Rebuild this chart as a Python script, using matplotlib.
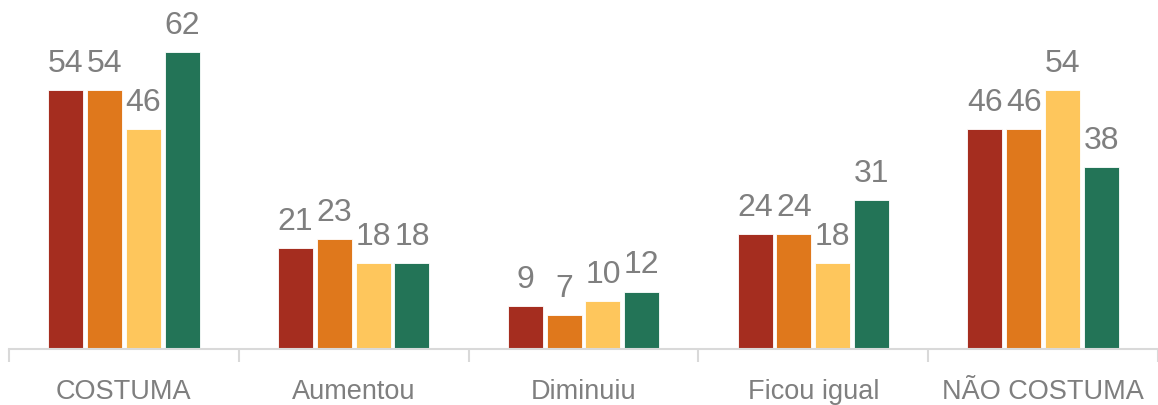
import matplotlib
matplotlib.use("Agg")
import matplotlib.pyplot as plt
import numpy as np

categories = ["COSTUMA", "Aumentou", "Diminuiu", "Ficou igual", "NÃO COSTUMA"]
serie1 = [54, 21, 9, 24, 46]
serie2 = [54, 23, 7, 24, 46]
serie3 = [46, 18, 10, 18, 54]
serie4 = [62, 18, 12, 31, 38]
series = [serie1, serie2, serie3, serie4]
colors = ["#A52D1F", "#DF781C", "#FEC65C", "#237457"]

W, H = 1158, 405
fig = plt.figure(figsize=(W / 100, H / 100), dpi=100)
base_px = 349
top_units = 65
ppu = 297 / 62.0
ax_h = top_units * ppu
ax = fig.add_axes([9 / W, (H - base_px) / H, (W - 9) / W, ax_h / H])

x = np.arange(len(categories))
step = 39 / 231
bw = 35 / 231
font = "Liberation Sans"
grey = "#7F7F7F"
for i, (vals, c) in enumerate(zip(series, colors)):
    pos = x + (i - 1.5) * step
    bars = ax.bar(pos, vals, width=bw, color=c, edgecolor="white", linewidth=0.6, zorder=2)
    for b, v in zip(bars, vals):
        ax.annotate(str(v), (b.get_x() + b.get_width() / 2, v), xytext=(0, 13),
                    textcoords="offset points", ha="center", va="baseline",
                    fontsize=23, color=grey, family=font)

ax.set_xlim(-0.5, -0.5 + (W - 9) / 231)
ax.set_ylim(0, top_units)
for s in ["top", "right", "left"]:
    ax.spines[s].set_visible(False)
ax.spines["bottom"].set_color("#D9D9D9")
ax.spines["bottom"].set_linewidth(1.5)
ax.set_yticks([])
ax.set_xticks(np.arange(-0.5, 5, 1.0))
ax.set_xticklabels([])
ax.tick_params(axis="x", which="major", length=9, width=1.5, color="#D9D9D9")
for xi, cat in zip(x, categories):
    ax.annotate(cat, (xi, 0), xycoords=("data", "axes fraction"), xytext=(0, -36),
                textcoords="offset points", ha="center", va="baseline",
                fontsize=19.5, color=grey, family=font, annotation_clip=False)

fig.savefig("out.png", dpi=100)
